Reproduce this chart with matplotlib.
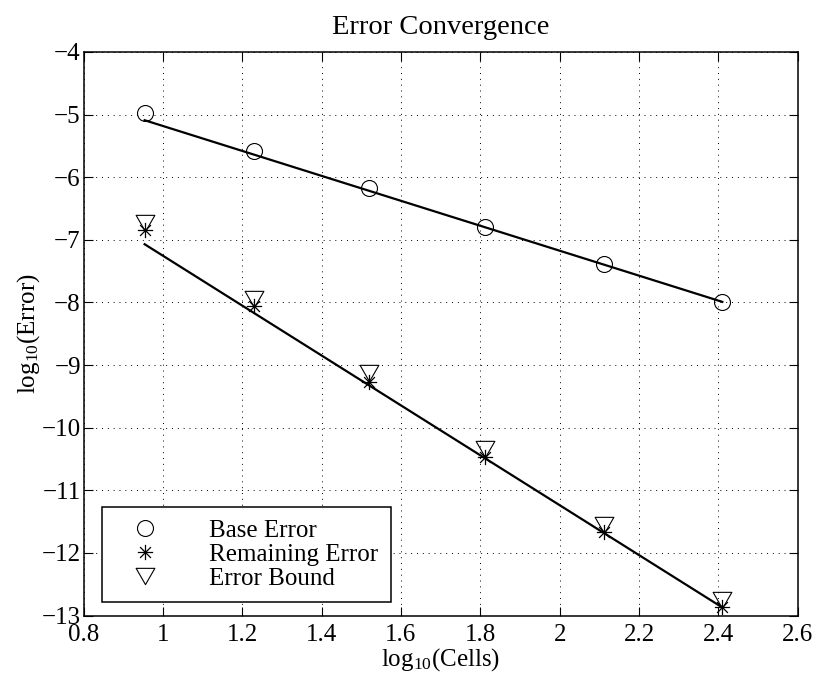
import matplotlib
matplotlib.use("Agg")
import matplotlib.pyplot as plt
import numpy as np
from matplotlib.path import Path

# data
log_cells = [0.954, 1.230, 1.519, 1.813, 2.111, 2.410]
base_error = [-4.97, -5.58, -6.18, -6.79, -7.39, -7.99]
remaining_error = [-6.84, -8.05, -9.27, -10.47, -11.66, -12.87]
error_bound = [-6.73, -7.94, -9.13, -10.34, -11.55, -12.75]

# fitted lines (end points)
fit_x = [0.954, 2.410]
base_fit = [-5.09, -7.99]
remaining_fit = [-7.07, -12.87]

xticks = [0.8, 1.0, 1.2, 1.4, 1.6, 1.8, 2.0, 2.2, 2.4, 2.6]
xticklabels = ["0.8", "1", "1.2", "1.4", "1.6", "1.8", "2", "2.2", "2.4", "2.6"]
yticks = list(range(-13, -3))

plt.rcParams["font.family"] = ["Liberation Serif", "DejaVu Serif"]
plt.rcParams["mathtext.fontset"] = "custom"
plt.rcParams["mathtext.rm"] = "Liberation Serif"
plt.rcParams["mathtext.it"] = "Liberation Serif:italic"
plt.rcParams["font.size"] = 18

# matlab style markers
d = 0.71
star = Path(
    [(-1, 0), (1, 0), (0, -1), (0, 1), (-d, -d), (d, d), (-d, d), (d, -d)],
    [Path.MOVETO, Path.LINETO] * 4,
)
tri = Path([(-1.15, 1), (1.15, 1), (0, -1), (-1.15, 1)],
           [Path.MOVETO, Path.LINETO, Path.LINETO, Path.CLOSEPOLY])

fig = plt.figure(figsize=(8.19, 6.75), dpi=100)
ax = fig.add_axes([0.102, 0.088, 0.872, 0.835])

ax.plot(fit_x, base_fit, color="black", lw=1.6, zorder=3)
ax.plot(fit_x, remaining_fit, color="black", lw=1.6, zorder=3)

ax.plot(log_cells, base_error, linestyle="none", marker="o", ms=11.5,
        mfc="none", mec="black", mew=0.8, label="Base Error", zorder=4)
ax.plot(log_cells, remaining_error, linestyle="none", marker=star, ms=11,
        mfc="none", mec="black", mew=0.9, label="Remaining Error", zorder=4)
ax.plot(log_cells, error_bound, linestyle="none", marker=tri, ms=13.5,
        mfc="none", mec="black", mew=0.8, label="Error Bound", zorder=4)

ax.set_xlim(0.8, 2.6)
ax.set_ylim(-13, -4)
ax.set_xticks(xticks)
ax.set_xticklabels(xticklabels)
ax.set_yticks(yticks)

ax.grid(True, color="black", linestyle=(0, (1, 5)), linewidth=0.7)
ax.tick_params(direction="in", length=6.5, width=0.8, top=True, right=True,
               labelsize=18)
ax.tick_params(axis="x", pad=6)
ax.tick_params(axis="y", pad=2)
for s in ax.spines.values():
    s.set_linewidth(1.1)

ax.set_title("Error Convergence", fontsize=20.5, pad=13)
ax.set_xlabel(r"$\mathrm{log}_{10}$(Cells)", fontsize=18, labelpad=0)
ax.set_ylabel(r"$\mathrm{log}_{10}$(Error)", fontsize=18, labelpad=0)

leg = ax.legend(loc="lower left", bbox_to_anchor=(0.026, 0.024, 0.404, 0.165),
                mode="expand", borderaxespad=0, fancybox=False,
                edgecolor="black", framealpha=1, numpoints=1,
                handlelength=2.44, handletextpad=1.34, borderpad=0.5,
                labelspacing=0.06, fontsize=18)
leg.get_frame().set_linewidth(1.1)

fig.savefig("out.png", dpi=100)
